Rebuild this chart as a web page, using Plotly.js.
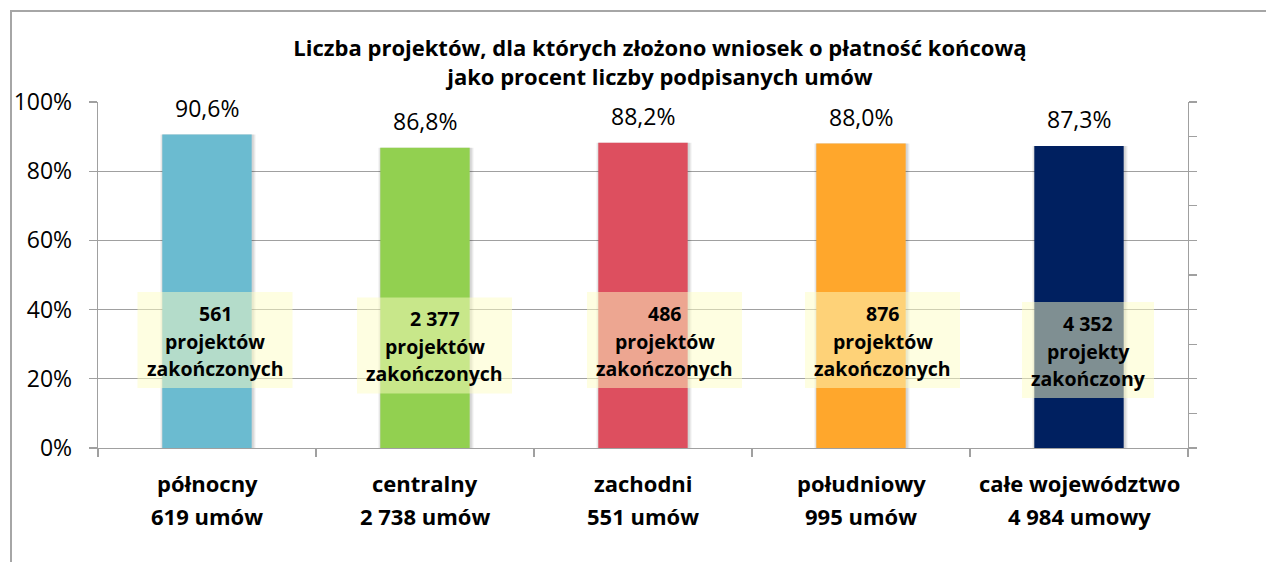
<!DOCTYPE html>
<html>
<head>
<meta charset="utf-8">
<script src="https://cdn.plot.ly/plotly-3.0.1.min.js"></script>
<style>
  html, body { margin: 0; padding: 0; background: #ffffff; }
  #frame { position: absolute; left: 10px; top: 10px; width: 1256px; height: 552px;
           border-left: 2px solid #a6a6a6; border-top: 2px solid #a6a6a6; box-sizing: border-box; }
  #chart { position: absolute; left: 0; top: 0; width: 1266px; height: 562px; }
</style>
</head>
<body>
<div id="frame"></div>
<div id="chart"></div>
<script>
// ---- data ----
const regions = ['północny', 'centralny', 'zachodni', 'południowy', 'całe województwo'];
const contracts = [619, 2738, 551, 995, 4984];
const contractWord = ['umów', 'umów', 'umów', 'umów', 'umowy'];
const percentDone = [90.6, 86.8, 88.2, 88.0, 87.3];
const completed = [561, 2377, 486, 876, 4352];
const completedWord1 = ['projektów', 'projektów', 'projektów', 'projektów', 'projekty'];
const completedWord2 = ['zakończonych', 'zakończonych', 'zakończonych', 'zakończonych', 'zakończony'];
const barColors = ['#6bbbd0', '#92d050', '#dd4f5f', '#ffa72c', '#002060'];
const yTicks = [0, 20, 40, 60, 80, 100];

// ---- styling / placement (not data) ----
const boxShiftPx = [8, 9.5, 21.5, 21.5, 9];
const boxCenterY = [31.2, 29.6, 31.2, 31.2, 28.3];
const boxWidthPx = [155, 155, 155, 155, 132];
const boxHeightPx = 96;
const FONT = 'Open Sans, Lato, sans-serif';
const GRID = '#a0a0a0';

function fmtInt(n) { return String(n).replace(/\B(?=(\d{3})+(?!\d))/g, ' '); }
function fmtPct(v) { return v.toFixed(1).replace('.', ',') + '%'; }

const traces = [];
// soft shadow layers behind the bars
[[0.44, 0.04], [0.43, 0.06], [0.42, 0.08]].forEach(function (p) {
  const w = p[0];
  traces.push({
    type: 'bar', x: regions, y: percentDone, width: w, offset: -w / 2 + 0.004,
    marker: { color: 'rgba(0,0,0,' + p[1] + ')', line: { width: 0 } },
    hoverinfo: 'skip', showlegend: false
  });
});
traces.push({
  type: 'bar', x: regions, y: percentDone, width: 0.41,
  marker: { color: barColors, line: { width: 0 } },
  hoverinfo: 'skip', showlegend: false
});
// invisible trace to carry the secondary (right) axis
traces.push({
  type: 'scatter', mode: 'markers', x: regions, y: percentDone, yaxis: 'y2',
  marker: { opacity: 0 }, hoverinfo: 'skip', showlegend: false
});

const annotations = [];
const shapes = [];
regions.forEach(function (r, i) {
  // value label above bar
  annotations.push({
    x: r, y: percentDone[i], xref: 'x', yref: 'y', yshift: 27,
    text: fmtPct(percentDone[i]), showarrow: false, yanchor: 'middle',
    font: { family: FONT, size: 23, color: '#000' }
  });
  // category labels (two lines)
  annotations.push({
    x: r, y: 0, xref: 'x', yref: 'paper', yshift: -35, yanchor: 'middle',
    text: '<b>' + r + '</b>', showarrow: false,
    font: { family: FONT, size: 22, color: '#000' }
  });
  annotations.push({
    x: r, y: 0, xref: 'x', yref: 'paper', yshift: -68, yanchor: 'middle',
    text: '<b>' + fmtInt(contracts[i]) + ' ' + contractWord[i] + '</b>', showarrow: false,
    font: { family: FONT, size: 22, color: '#000' }
  });
  // translucent yellow box
  shapes.push({
    type: 'rect', layer: 'above', xref: 'x', yref: 'y',
    xsizemode: 'pixel', ysizemode: 'pixel', xanchor: i, yanchor: boxCenterY[i],
    x0: boxShiftPx[i] - boxWidthPx[i] / 2, x1: boxShiftPx[i] + boxWidthPx[i] / 2,
    y0: -boxHeightPx / 2, y1: boxHeightPx / 2,
    fillcolor: 'rgba(254,253,196,0.5)', line: { width: 0 }
  });
  const lines = [fmtInt(completed[i]), completedWord1[i], completedWord2[i]];
  const offs = [27, -1, -28];
  lines.forEach(function (t, k) {
    annotations.push({
      x: r, y: boxCenterY[i], xref: 'x', yref: 'y', xshift: boxShiftPx[i], yshift: offs[k],
      yanchor: 'middle', text: '<b>' + t + '</b>', showarrow: false,
      font: { family: FONT, size: 19.5, color: '#000' }
    });
  });
});

const layout = {
  width: 1266, height: 562,
  margin: { l: 98, r: 78, t: 102, b: 114, pad: 0 },
  paper_bgcolor: 'rgba(0,0,0,0)', plot_bgcolor: 'rgba(0,0,0,0)',
  barmode: 'overlay', showlegend: false,
  title: {
    text: '<b>Liczba projektów, dla których złożono wniosek o płatność końcową<br>jako procent liczby podpisanych umów</b>',
    font: { family: FONT, size: 22, color: '#000' },
    x: 0.5213, xref: 'container', xanchor: 'center',
    y: 0.9004, yref: 'container', yanchor: 'middle'
  },
  xaxis: {
    type: 'category', showticklabels: false, tickson: 'boundaries',
    ticks: 'outside', ticklen: 8, tickcolor: GRID, tickwidth: 1.3,
    showline: true, linecolor: GRID, linewidth: 1.3, showgrid: false, zeroline: false,
    range: [-0.5, 4.5]
  },
  yaxis: {
    range: [0, 100], tickvals: yTicks, ticktext: yTicks.map(v => v + '%'),
    ticks: 'outside', ticklen: 8, tickcolor: GRID, tickwidth: 1.3,
    showline: true, linecolor: GRID, linewidth: 1.3,
    showgrid: true, gridcolor: GRID, gridwidth: 1.3, zeroline: false,
    tickfont: { family: FONT, size: 23, color: '#000' }, ticklabelstandoff: 12
  },
  yaxis2: {
    overlaying: 'y', side: 'right', range: [0, 100], dtick: 10,
    ticks: 'outside', ticklen: 8, tickcolor: GRID, tickwidth: 1.3,
    showline: true, linecolor: GRID, linewidth: 1.3,
    showgrid: false, zeroline: false, showticklabels: false
  },
  shapes: shapes,
  annotations: annotations
};

Plotly.newPlot('chart', traces, layout, { staticPlot: true, displayModeBar: false });
</script>
</body>
</html>
